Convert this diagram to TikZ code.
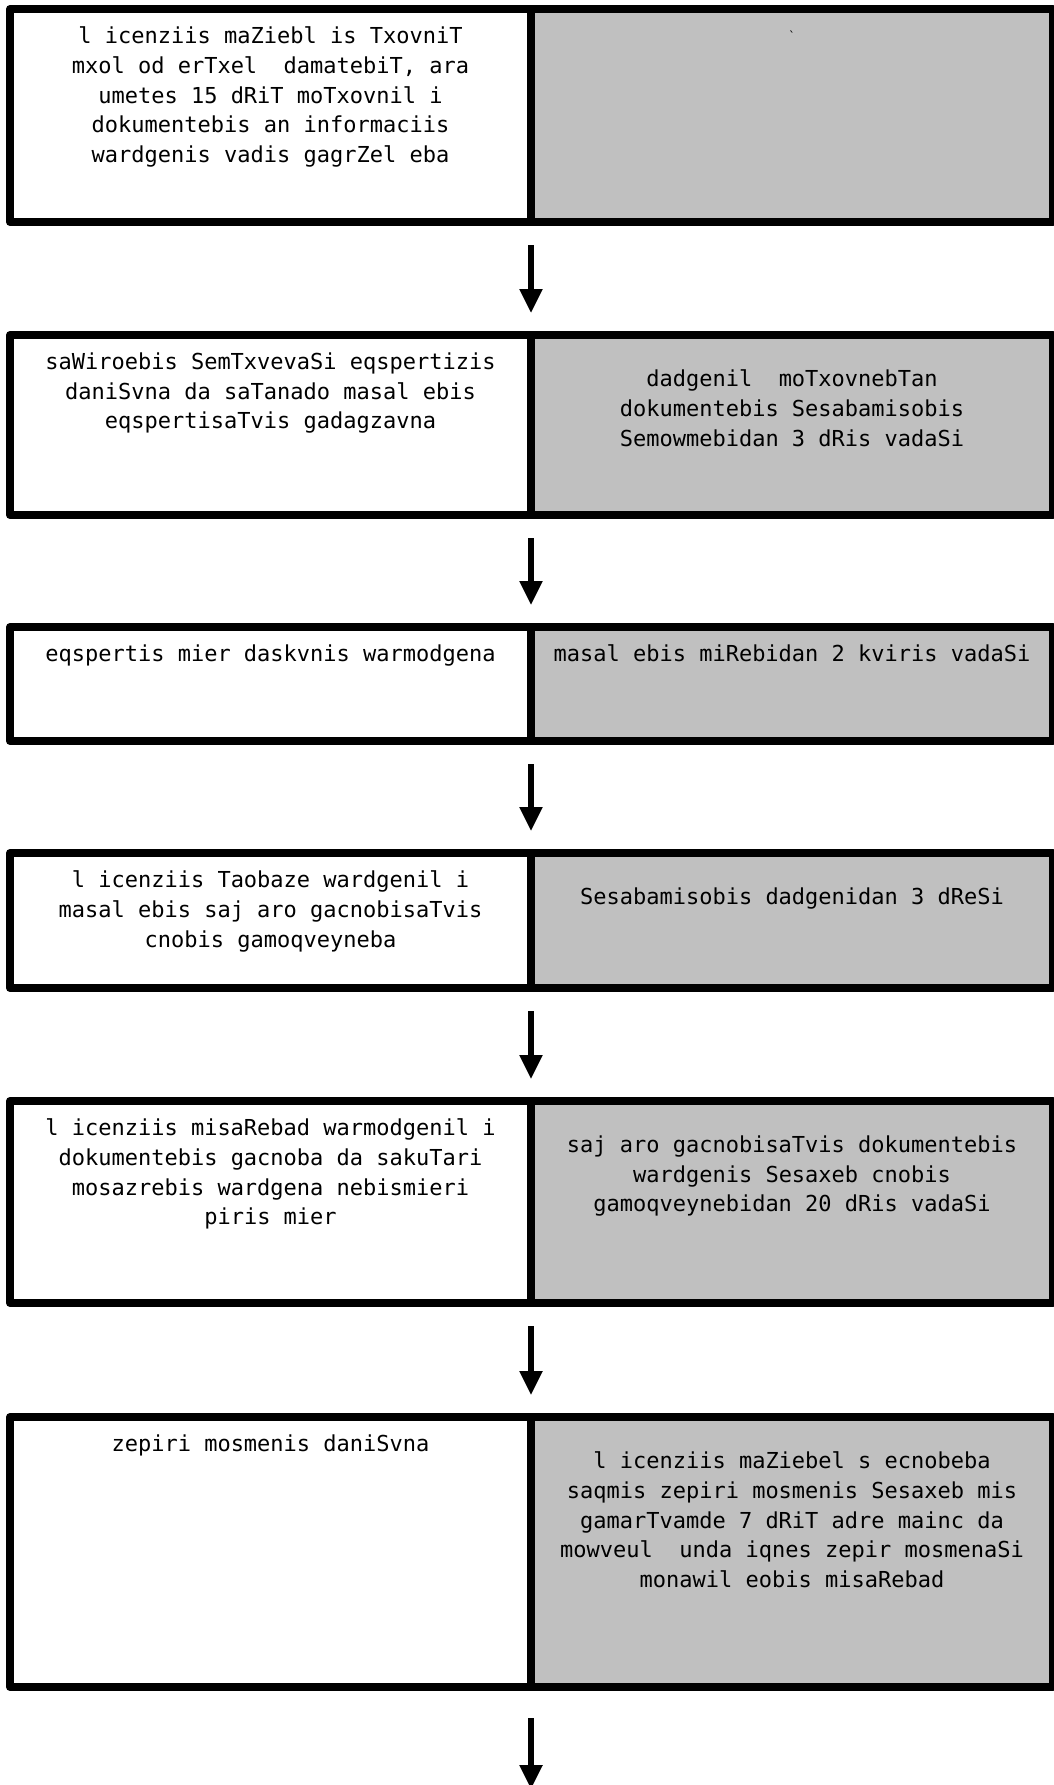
\documentclass[tikz,border=0pt]{standalone}
\usepackage{fontspec}
\newfontfamily\geofont{DejaVu Sans Mono}
\usepackage{tikz}
\usetikzlibrary{arrows.meta, positioning}
\definecolor{cellGray}{RGB}{192,192,192}

\begin{document}
\begin{tikzpicture}[x=1pt, y=-1pt,
    cell/.style={rectangle, draw, line width=8pt, line join=round,
                 inner sep=0pt, outer sep=0pt, minimum width=522pt},
    whitecell/.style={cell, fill=white, minimum width=521pt},
    graycell/.style={cell, fill=cellGray},
    txt/.style={inner sep=0pt, outer sep=0pt, align=center,
                font=\geofont\fontsize{22}{29.6}\selectfont},
    arr/.style={-{Triangle[length=24pt,width=22pt]}, line width=5.5pt,
                shorten <=23pt, shorten >=22pt},
  ]
    \useasboundingbox (0,0) rectangle (1054,1785);

    % Row 1
    \node[whitecell, minimum height=213pt, anchor=north west] (l1) at (10,9) {};
    \node[graycell, minimum height=213pt, right=0pt of l1] (r1) {};
    \node[txt, below=18pt of l1.north] (lt1) {l icenziis maZiebl is TxovniT\\
      mxol od erTxel~ damatebiT, ara\\umetes 15 dRiT moTxovnil i\\
      dokumentebis an informaciis\\wardgenis vadis gagrZel eba};
    \node[txt, font=\geofont\fontsize{12}{12}\selectfont, below=22pt of r1.north] (rt1) {\textasciigrave};

    % Row 2
    \node[whitecell, minimum height=180pt, below=113pt of l1] (l2) {};
    \node[graycell, minimum height=180pt, right=0pt of l2] (r2) {};
    \node[txt, below=18pt of l2.north] (lt2) {saWiroebis SemTxvevaSi eqspertizis\\
      daniSvna da saTanado masal ebis\\eqspertisaTvis gadagzavna};
    \node[txt, below=35pt of r2.north] (rt2) {dadgenil~ moTxovnebTan\\
      dokumentebis Sesabamisobis\\Semowmebidan 3 dRis vadaSi};

    % Row 3
    \node[whitecell, minimum height=114pt, below=112pt of l2] (l3) {};
    \node[graycell, minimum height=114pt, right=0pt of l3] (r3) {};
    \node[txt, below=18pt of l3.north] (lt3) {eqspertis mier daskvnis warmodgena};
    \node[txt, below=18pt of r3.north] (rt3) {masal ebis miRebidan 2 kviris vadaSi};

    % Row 4
    \node[whitecell, minimum height=135pt, below=112pt of l3] (l4) {};
    \node[graycell, minimum height=135pt, right=0pt of l4] (r4) {};
    \node[txt, below=18pt of l4.north] (lt4) {l icenziis Taobaze wardgenil i\\
      masal ebis saj aro gacnobisaTvis\\cnobis gamoqveyneba};
    \node[txt, below=35pt of r4.north] (rt4) {Sesabamisobis dadgenidan 3 dReSi};

    % Row 5
    \node[whitecell, minimum height=202pt, below=113pt of l4] (l5) {};
    \node[graycell, minimum height=202pt, right=0pt of l5] (r5) {};
    \node[txt, below=18pt of l5.north] (lt5) {l icenziis misaRebad warmodgenil i\\
      dokumentebis gacnoba da sakuTari\\mosazrebis wardgena nebismieri\\piris mier};
    \node[txt, below=35pt of r5.north] (rt5) {saj aro gacnobisaTvis dokumentebis\\
      wardgenis Sesaxeb cnobis\\gamoqveynebidan 20 dRis vadaSi};

    % Row 6
    \node[whitecell, minimum height=270pt, below=114pt of l5] (l6) {};
    \node[graycell, minimum height=270pt, right=0pt of l6] (r6) {};
    \node[txt, below=18pt of l6.north] (lt6) {zepiri mosmenis daniSvna};
    \node[txt, below=35pt of r6.north] (rt6) {l icenziis maZiebel s ecnobeba\\
      saqmis zepiri mosmenis Sesaxeb mis\\gamarTvamde 7 dRiT adre mainc da\\
      mowveul~ unda iqnes zepir mosmenaSi\\monawil eobis misaRebad};

    % Arrows
    \coordinate (end) at (531,1789);
    \draw[arr] (l1.south east) -- (l2.north east);
    \draw[arr] (l2.south east) -- (l3.north east);
    \draw[arr] (l3.south east) -- (l4.north east);
    \draw[arr] (l4.south east) -- (l5.north east);
    \draw[arr] (l5.south east) -- (l6.north east);
    \draw[arr, shorten <=31pt, shorten >=0pt] (l6.south east) -- (end);
\end{tikzpicture}
\end{document}
